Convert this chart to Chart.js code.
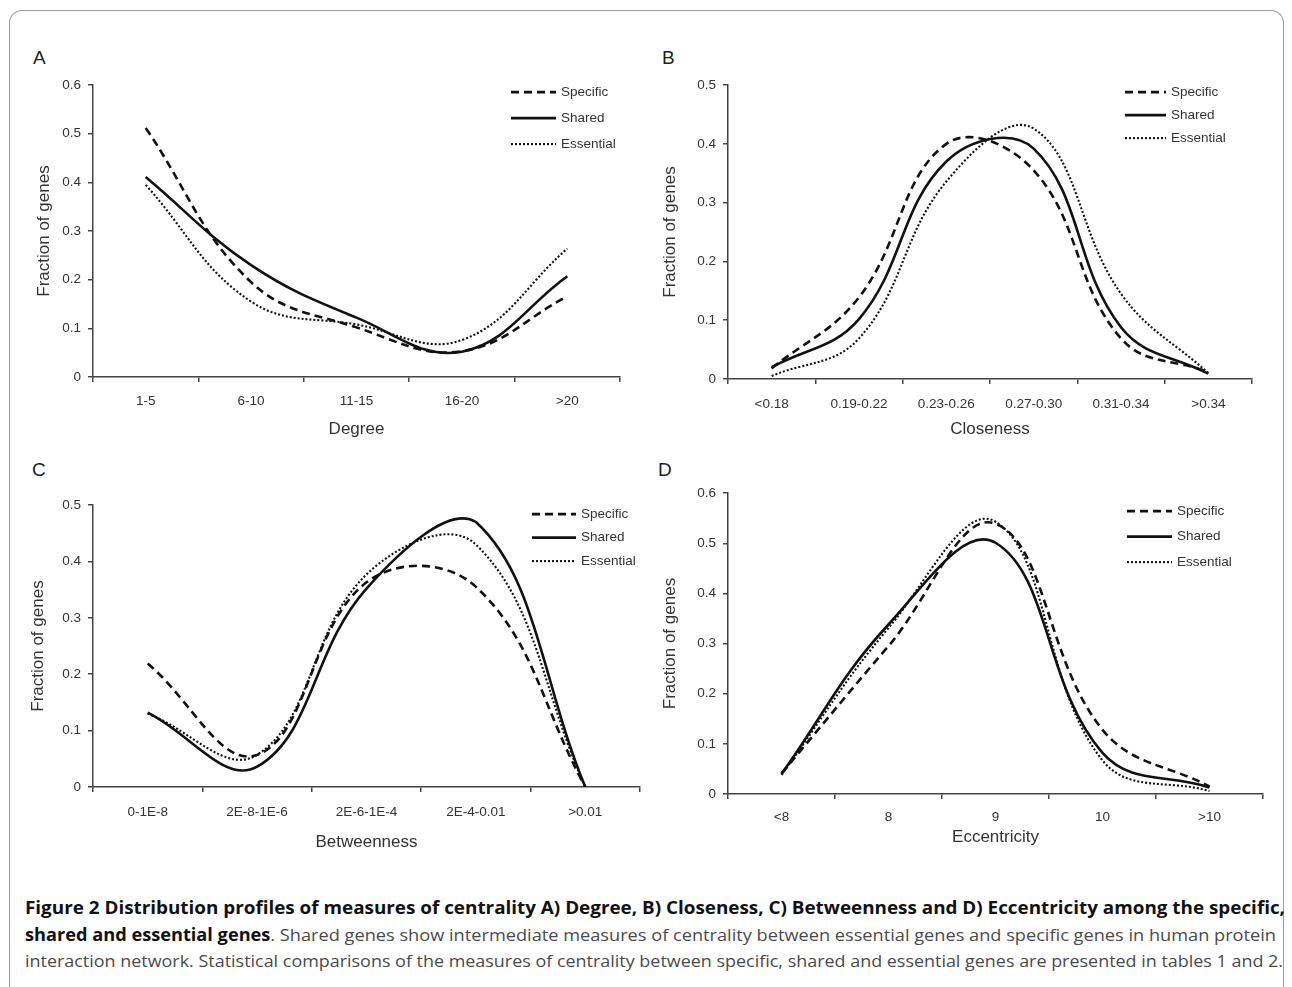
<!DOCTYPE html>
<html>
<head>
<meta charset="utf-8">
<script src="https://cdn.jsdelivr.net/npm/chart.js@4.4.1/dist/chart.umd.min.js"></script>
<style>
  html, body { margin: 0; padding: 0; background: #fff; }
  body { width: 1292px; height: 987px; position: relative; overflow: hidden; font-family: "Liberation Sans", Arial, sans-serif; }
  .frame { position: absolute; left: 9px; top: 10px; width: 1275px; height: 1000px; border: 1px solid #9a9a9a; border-bottom: none; border-radius: 13px 13px 0 0; box-sizing: border-box; }
  canvas { position: absolute; }
  .letter { position: absolute; font-size: 19px; color: #222; line-height: 1; }
  .caption { position: absolute; left: 25px; top: 895px; font-family: "Open Sans", sans-serif; font-size: 17px; line-height: 26.5px; color: #4a4a4a; }
  .caption .cl { white-space: nowrap; transform-origin: 0 50%; width: max-content; }
  .caption b { color: #111; font-weight: 700; }
</style>
</head>
<body>
<div class="frame"></div>

<div class="letter" style="left:33px; top:48px;">A</div>
<div class="letter" style="left:662px; top:48px;">B</div>
<div class="letter" style="left:32px; top:460px;">C</div>
<div class="letter" style="left:658px; top:460px;">D</div>

<canvas id="chartA" width="640" height="380" style="left:20px; top:70px;"></canvas>
<canvas id="chartB" width="630" height="380" style="left:650px; top:70px;"></canvas>
<canvas id="chartC" width="640" height="370" style="left:20px; top:490px;"></canvas>
<canvas id="chartD" width="630" height="382" style="left:650px; top:478px;"></canvas>

<div class="caption">
  <div class="cl" data-w="1260"><b>Figure 2 Distribution profiles of measures of centrality A) Degree, B) Closeness, C) Betweenness and D) Eccentricity among the specific,</b></div>
  <div class="cl" data-w="1251"><b>shared and essential genes</b>. Shared genes show intermediate measures of centrality between essential genes and specific genes in human protein</div>
  <div class="cl" data-w="1258">interaction network. Statistical comparisons of the measures of centrality between specific, shared and essential genes are presented in tables 1 and 2.</div>
</div>

<script>
// Degree
const degreeLabels = ['1-5', '6-10', '11-15', '16-20', '>20'];
const degreeSpecific = [0.512, 0.195, 0.102, 0.053, 0.166];
const degreeShared = [0.411, 0.230, 0.122, 0.052, 0.207];
const degreeEssential = [0.395, 0.155, 0.108, 0.076, 0.264];

// Closeness
const closenessLabels = ['<0.18', '0.19-0.22', '0.23-0.26', '0.27-0.30', '0.31-0.34', '>0.34'];
const closenessSpecific = [0.018, 0.139, 0.400, 0.355, 0.069, 0.012];
const closenessShared = [0.020, 0.102, 0.370, 0.392, 0.088, 0.009];
const closenessEssential = [0.005, 0.069, 0.336, 0.426, 0.145, 0.010];

// Betweenness
const betweennessLabels = ['0-1E-8', '2E-8-1E-6', '2E-6-1E-4', '2E-4-0.01', '>0.01'];
const betweennessSpecific = [0.219, 0.057, 0.363, 0.355, 0];
const betweennessShared = [0.132, 0.036, 0.352, 0.470, 0];
const betweennessEssential = [0.130, 0.057, 0.377, 0.430, 0];

// Eccentricity
const eccentricityLabels = ['<8', '8', '9', '10', '>10'];
const eccentricitySpecific = [0.041, 0.295, 0.539, 0.128, 0.015];
const eccentricityShared = [0.040, 0.338, 0.501, 0.082, 0.013];
const eccentricityEssential = [0.038, 0.331, 0.543, 0.067, 0.006];

const seriesNames = ['Specific', 'Shared', 'Essential'];

const AXIS = '#444';
const TEXT = '#333';
const FONT = '"Liberation Sans", Arial, sans-serif';

// line styles for the three gene groups
const styles = [
    { borderDash: [8, 5], borderWidth: 2.6 },
    { borderDash: [], borderWidth: 2.6 },
    { borderDash: [2, 2], borderWidth: 2.1 }
];

// small legend drawn inside the plot, top right
const lineKey = {
    id: 'lineKey',
    afterDraw(chart, args, opts) {
        const ctx = chart.ctx;
        const area = chart.chartArea;
        chart.data.datasets.forEach((ds, i) => {
            const x = area.right - opts.right;
            const y = area.top + opts.top + i * opts.gap;
            ctx.save();
            ctx.strokeStyle = ds.borderColor;
            ctx.lineWidth = ds.borderWidth;
            ctx.setLineDash(ds.borderDash || []);
            ctx.beginPath();
            ctx.moveTo(x, y);
            ctx.lineTo(x + opts.len, y);
            ctx.stroke();
            ctx.setLineDash([]);
            ctx.fillStyle = TEXT;
            ctx.font = '13.5px ' + FONT;
            ctx.textBaseline = 'middle';
            ctx.fillText(ds.label, x + opts.len + 5, y);
            ctx.restore();
        });
    }
};

function makeChart(id, labels, values, cfg) {
    const ctx = document.getElementById(id).getContext('2d');
    return new Chart(ctx, {
        type: 'line',
        data: {
            labels: labels,
            datasets: values.map((data, i) => ({
                label: seriesNames[i],
                data: data,
                borderColor: '#111',
                borderWidth: styles[i].borderWidth,
                borderDash: styles[i].borderDash,
                pointRadius: 0,
                fill: false,
                tension: 0.4
            }))
        },
        options: {
            responsive: false,
            animation: false,
            devicePixelRatio: 1,
            layout: { padding: { top: cfg.padTop, right: cfg.padRight, left: 0, bottom: 0 } },
            plugins: {
                legend: { display: false },
                tooltip: { enabled: false },
                lineKey: cfg.key
            },
            scales: {
                x: {
                    type: 'category',
                    offset: true,
                    grid: { offset: true, drawOnChartArea: false, drawTicks: true, tickLength: 5, color: AXIS, lineWidth: 1.5 },
                    border: { color: AXIS, width: 1.5 },
                    ticks: { color: TEXT, font: { family: FONT, size: 13.5 }, padding: cfg.xTickPad, maxRotation: 0, autoSkip: false },
                    title: { display: true, text: cfg.xTitle, color: TEXT, font: { family: FONT, size: 17 }, padding: { top: 0, bottom: cfg.xTitlePad } },
                    afterFit(scale) { scale.height = cfg.xHeight; }
                },
                y: {
                    min: 0,
                    max: cfg.yMax,
                    grid: { drawOnChartArea: false, drawTicks: true, tickLength: 5, color: AXIS, lineWidth: 1.5 },
                    border: { color: AXIS, width: 1.5 },
                    ticks: {
                        stepSize: 0.1,
                        color: TEXT,
                        font: { family: FONT, size: 13.5 },
                        padding: 7,
                        callback: v => (v === 0 ? '0' : v.toFixed(1))
                    },
                    title: { display: true, text: 'Fraction of genes', color: TEXT, font: { family: FONT, size: 17 }, padding: { top: cfg.yTitlePad, bottom: 0 } },
                    afterFit(scale) { scale.width = cfg.yWidth; }
                }
            }
        },
        plugins: [lineKey]
    });
}

makeChart('chartA', degreeLabels, [degreeSpecific, degreeShared, degreeEssential], {
    xTitle: 'Degree', yMax: 0.6,
    padTop: 15, padRight: 40, yWidth: 73, xHeight: 73,
    xTickPad: 11, xTitlePad: 10, yTitlePad: 14,
    key: { right: 109, top: 7, gap: 26, len: 45 }
});

makeChart('chartB', closenessLabels, [closenessSpecific, closenessShared, closenessEssential], {
    xTitle: 'Closeness', yMax: 0.5,
    padTop: 13, padRight: 28, yWidth: 78, xHeight: 71,
    xTickPad: 12, xTitlePad: 10, yTitlePad: 10,
    key: { right: 127, top: 7, gap: 23, len: 41 }
});

makeChart('chartC', betweennessLabels, [betweennessSpecific, betweennessShared, betweennessEssential], {
    xTitle: 'Betweenness', yMax: 0.5,
    padTop: 12, padRight: 20, yWidth: 73, xHeight: 73,
    xTickPad: 12, xTitlePad: 7, yTitlePad: 8,
    key: { right: 108, top: 9, gap: 23.5, len: 44 }
});

makeChart('chartD', eccentricityLabels, [eccentricitySpecific, eccentricityShared, eccentricityEssential], {
    xTitle: 'Eccentricity', yMax: 0.6,
    padTop: 13, padRight: 17, yWidth: 78, xHeight: 66,
    xTickPad: 10, xTitlePad: 12, yTitlePad: 10,
    key: { right: 136, top: 18, gap: 25.5, len: 45 }
});

// squeeze each caption line to its column width
document.querySelectorAll('.caption .cl').forEach(el => {
    const w = el.getBoundingClientRect().width;
    const target = Number(el.dataset.w);
    el.style.transform = 'scaleX(' + (target / w) + ')';
});
</script>
</body>
</html>
